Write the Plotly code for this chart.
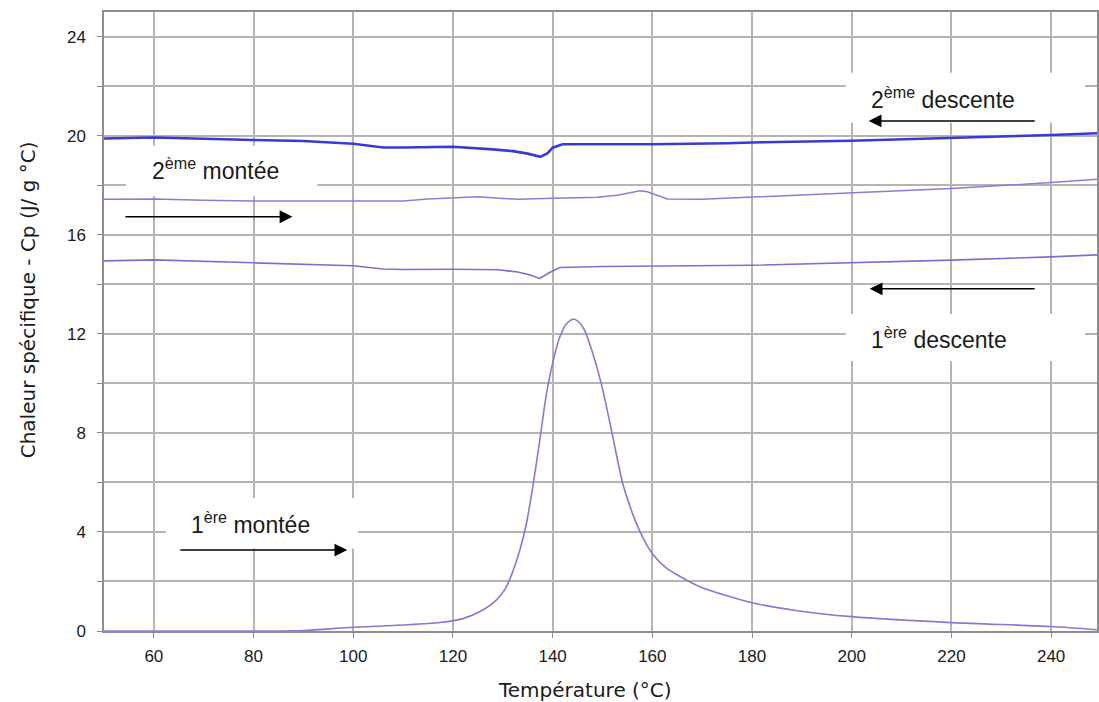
import plotly.graph_objects as go

# ---- Data ----
x_desc2 = [50, 60, 80, 90, 100, 106, 110, 120, 128, 132, 135, 137.5, 139, 140, 142, 160, 175, 180, 200, 220, 240, 249.2]
y_desc2 = [19.89, 19.93, 19.83, 19.79, 19.68, 19.53, 19.53, 19.56, 19.45, 19.38, 19.28, 19.15, 19.3, 19.52, 19.66, 19.66, 19.7, 19.73, 19.8, 19.9, 20.03, 20.1]

x_mont2 = [50, 60, 70, 80, 100, 110, 115, 120, 125, 130, 133, 140, 149, 153, 157.5, 159, 161, 163, 170, 180, 200, 220, 240, 249.2]
y_mont2 = [17.44, 17.45, 17.40, 17.37, 17.37, 17.37, 17.45, 17.49, 17.54, 17.47, 17.44, 17.48, 17.52, 17.6, 17.78, 17.74, 17.6, 17.45, 17.44, 17.53, 17.68, 17.87, 18.11, 18.25]

x_desc1 = [50, 60, 80, 100, 106, 110, 120, 129, 133, 135.5, 137.4, 139.4, 141.4, 150, 180, 200, 220, 240, 249.2]
y_desc1 = [14.95, 14.99, 14.87, 14.75, 14.62, 14.6, 14.61, 14.59, 14.5, 14.38, 14.24, 14.48, 14.68, 14.72, 14.77, 14.86, 14.98, 15.11, 15.19]

x_mont1 = [50, 80, 90, 100, 110, 117.4, 122, 126, 128.7, 130.5, 132, 133.4, 134.7, 136.1, 137.4, 138.7, 140.1, 141.4, 142.7,
           144.3, 146.1, 148.1, 150.1, 152.1, 154.1, 156.1, 158.1, 160.1, 162.7, 165.4, 169.4, 175, 180, 189.4, 200, 220, 240, 249.2]
y_mont1 = [0.0, 0.0, 0.02, 0.15, 0.24, 0.34, 0.5, 0.85, 1.25, 1.7, 2.4, 3.25, 4.3, 5.93, 7.68, 9.5, 10.9, 11.85, 12.39,
           12.59, 12.26, 11.18, 9.70, 7.81, 5.93, 4.71, 3.77, 3.10, 2.56, 2.22, 1.8, 1.42, 1.14, 0.81, 0.58, 0.34, 0.18, 0.05]

x_ticks = [60, 80, 100, 120, 140, 160, 180, 200, 220, 240]
y_ticks = [0, 4, 8, 12, 16, 20, 24]

labels = ["2<sup>ème</sup> montée", "2<sup>ème</sup> descente", "1<sup>ère</sup> descente", "1<sup>ère</sup> montée"]
label_x = [72.4, 218.4, 217.6, 79.4]
label_y = [18.67, 21.54, 11.84, 4.36]
box_x0 = [54.4, 198.8, 198.8, 62.4]
box_x1 = [92.8, 246.8, 246.8, 101.0]
box_y0 = [17.56, 20.53, 10.9, 3.33]
box_y1 = [19.6, 22.55, 12.8, 5.37]
arrow_tail_x = [54.0, 237.0, 237.0, 65.0]
arrow_head_x = [87.8, 203.4, 203.6, 98.8]
arrow_y = [16.73, 20.6, 13.82, 3.27]

FONT = "Liberation Sans, Arial, sans-serif"
GRID = "#b4b4b4"

fig = go.Figure()
fig.add_trace(go.Scatter(x=x_mont1, y=y_mont1, mode="lines", line=dict(color="#7d7dd6", width=1.6, shape="spline", smoothing=0.8), name="1ère montée"))
fig.add_trace(go.Scatter(x=x_desc1, y=y_desc1, mode="lines", line=dict(color="#7272d6", width=1.6), name="1ère descente"))
fig.add_trace(go.Scatter(x=x_mont2, y=y_mont2, mode="lines", line=dict(color="#8080da", width=1.5), name="2ème montée"))
fig.add_trace(go.Scatter(x=x_desc2, y=y_desc2, mode="lines", line=dict(color="#3a3ad2", width=2.6), name="2ème descente"))

shapes = []
for i in range(len(labels)):
    shapes.append(dict(type="rect", xref="x", yref="y", x0=box_x0[i], x1=box_x1[i], y0=box_y0[i], y1=box_y1[i],
                       fillcolor="white", line=dict(width=0), layer="between"))

annotations = []
for i in range(len(labels)):
    annotations.append(dict(x=label_x[i], y=label_y[i], xref="x", yref="y", text=labels[i], showarrow=False,
                            font=dict(family=FONT, size=23, color="#1a1a1a"), xanchor="center", yanchor="middle"))
    annotations.append(dict(x=arrow_head_x[i], y=arrow_y[i], ax=arrow_tail_x[i], ay=arrow_y[i],
                            xref="x", yref="y", axref="x", ayref="y", text="", showarrow=True,
                            arrowhead=2, arrowsize=1.6, arrowwidth=1.6, arrowcolor="#000000"))

annotations.append(dict(x=146.5, y=-0.095, xref="x", yref="paper", text="Température (°C)", showarrow=False,
                        font=dict(family="DejaVu Sans", size=20, color="#1a1a1a"), xanchor="center", yanchor="middle"))
annotations.append(dict(x=-0.0762, y=13.37, xref="paper", yref="y", text="Chaleur spécifique - Cp (J/ g °C)", showarrow=False,
                        textangle=-90, font=dict(family="DejaVu Sans", size=20, color="#1a1a1a"), xanchor="center", yanchor="middle"))

fig.update_layout(
    width=1099, height=702,
    margin=dict(l=104, r=0, t=12, b=71),
    paper_bgcolor="white", plot_bgcolor="white",
    showlegend=False,
    shapes=shapes, annotations=annotations,
    xaxis=dict(range=[50, 249.2], tickvals=x_ticks, showgrid=True, gridcolor=GRID, gridwidth=1.5,
               showline=True, linecolor="#8c8c8c", linewidth=1.5, mirror=True,
               ticks="outside", ticklen=5, tickcolor="#8c8c8c", zeroline=False,
               tickfont=dict(family=FONT, size=17, color="#1a1a1a"), ticklabelstandoff=4),
    yaxis=dict(range=[0, 25], tickvals=y_ticks, showgrid=True, gridcolor=GRID, gridwidth=1.5,
               showline=True, linecolor="#8c8c8c", linewidth=1.5, mirror=True,
               ticks="outside", ticklen=5, tickcolor="#8c8c8c", zeroline=False,
               minor=dict(dtick=2, tick0=0, showgrid=True, gridcolor=GRID, gridwidth=1.5, ticks="outside", ticklen=5, tickcolor="#8c8c8c"),
               tickfont=dict(family=FONT, size=17, color="#1a1a1a"), ticklabelstandoff=8),
)

fig.write_html("out.html", config={"displayModeBar": False},
               post_script="document.body.style.margin='0';document.body.style.overflow='hidden';")
